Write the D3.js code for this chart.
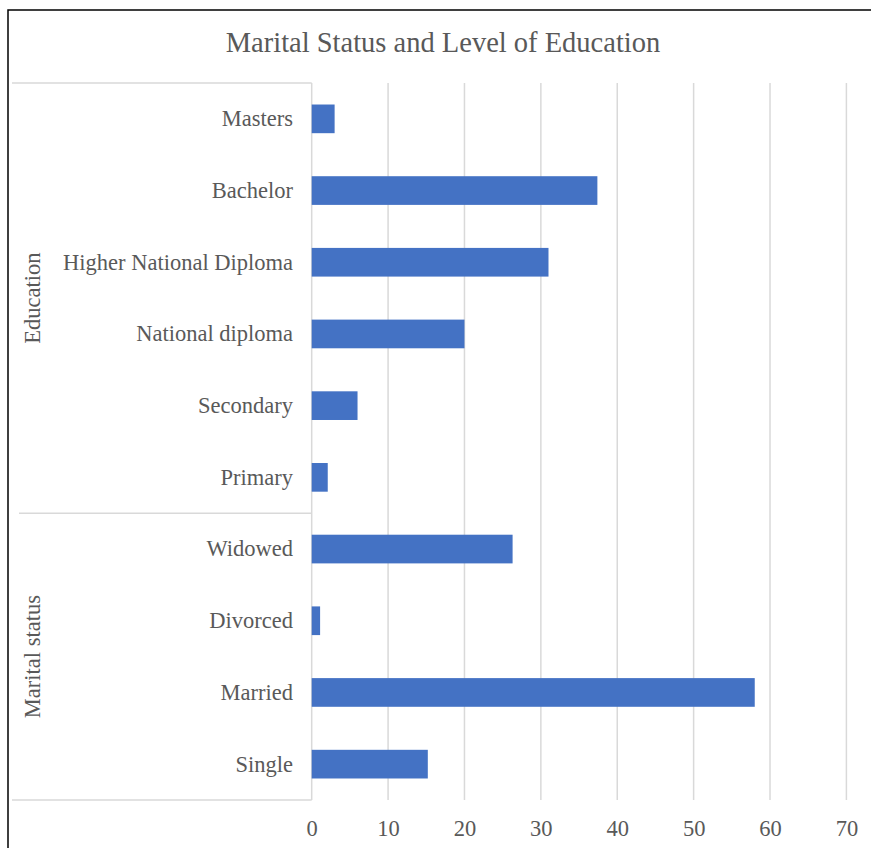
<!DOCTYPE html>
<html>
<head>
<meta charset="utf-8">
<script src="https://cdn.jsdelivr.net/npm/d3@7"></script>
<style>
  html, body { margin: 0; padding: 0; background: #fff; }
  svg { display: block; }
  text { font-family: "Liberation Serif", "Times New Roman", serif; fill: #595959; }
</style>
</head>
<body>
<svg id="chart" width="871" height="848"></svg>
<script>
// Categories, top to bottom
const categories = ["Masters", "Bachelor", "Higher National Diploma", "National diploma",
                    "Secondary", "Primary", "Widowed", "Divorced", "Married", "Single"];
// Values for each category
const values = [3, 37.4, 31, 20, 6, 2.1, 26.3, 1.1, 58, 15.2];
// Group labels and the number of categories each one spans
const groups = ["Education", "Marital status"];
const groupSizes = [6, 4];
// X tick values
const xTicks = [0, 10, 20, 30, 40, 50, 60, 70];

const svg = d3.select("#chart");
const labelSize = "22.5px";

// Outer chart frame
svg.append("rect")
  .attr("x", 8).attr("y", 10)
  .attr("width", 900).attr("height", 900)
  .attr("fill", "#fff").attr("stroke", "#000").attr("stroke-width", 1.5);

// Title
svg.append("text")
  .attr("x", 443).attr("y", 52)
  .attr("text-anchor", "middle")
  .style("font-size", "28.5px")
  .text("Marital Status and Level of Education");

const plot = { left: 311.7, right: 846.4, top: 83, bottom: 800 };

const x = d3.scaleLinear().domain([0, 70]).range([plot.left, plot.right]);
const y = d3.scaleBand().domain(categories).range([plot.top, plot.bottom]).paddingInner(0.6).paddingOuter(0.3);
const yBand = d3.scaleBand().domain(categories).range([plot.top, plot.bottom]);

// Vertical gridlines
svg.append("g")
  .selectAll("line")
  .data(xTicks)
  .join("line")
  .attr("x1", d => x(d)).attr("x2", d => x(d))
  .attr("y1", plot.top).attr("y2", plot.bottom)
  .attr("stroke", "#d9d9d9").attr("stroke-width", 1.5);

// Category axis group lines
const groupBounds = [];
let idx = 0;
groupSizes.forEach((n, i) => {
  const y0 = yBand(categories[idx]);
  const y1 = yBand(categories[idx + n - 1]) + yBand.bandwidth();
  groupBounds.push({ name: groups[i], y0, y1 });
  idx += n;
});
const boundaryYs = [plot.top].concat(groupBounds.map(g => g.y1));
svg.append("g")
  .selectAll("line")
  .data(boundaryYs)
  .join("line")
  .attr("x1", (d, i) => (i === 0 || i === boundaryYs.length - 1) ? 12 : 19)
  .attr("x2", plot.left)
  .attr("y1", d => d).attr("y2", d => d)
  .attr("stroke", "#d9d9d9").attr("stroke-width", 1.5);

// Bars
svg.append("g")
  .selectAll("rect")
  .data(categories.map((c, i) => ({ c, v: values[i] })))
  .join("rect")
  .attr("x", x(0))
  .attr("y", d => y(d.c))
  .attr("width", d => x(d.v) - x(0))
  .attr("height", y.bandwidth())
  .attr("fill", "#4472c4");

// Category labels
svg.append("g")
  .selectAll("text")
  .data(categories)
  .join("text")
  .attr("x", 293)
  .attr("y", d => yBand(d) + yBand.bandwidth() / 2)
  .attr("dy", "0.33em")
  .attr("text-anchor", "end")
  .style("font-size", labelSize)
  .text(d => d);

// Group labels (rotated)
svg.append("g")
  .selectAll("text")
  .data(groupBounds)
  .join("text")
  .attr("transform", d => `translate(33,${(d.y0 + d.y1) / 2}) rotate(-90)`)
  .attr("dy", "0.33em")
  .attr("text-anchor", "middle")
  .style("font-size", labelSize)
  .text(d => d.name);

// X axis tick labels
const xAxis = d3.axisBottom(x).tickValues(xTicks).tickSize(0).tickPadding(0);
const gx = svg.append("g")
  .attr("transform", `translate(0,${plot.bottom})`)
  .call(xAxis);
gx.select(".domain").remove();
gx.selectAll("text")
  .attr("y", 36)
  .attr("dy", 0)
  .style("font-size", labelSize)
  .style("font-family", "'Liberation Serif', 'Times New Roman', serif")
  .attr("fill", "#595959");
</script>
</body>
</html>
